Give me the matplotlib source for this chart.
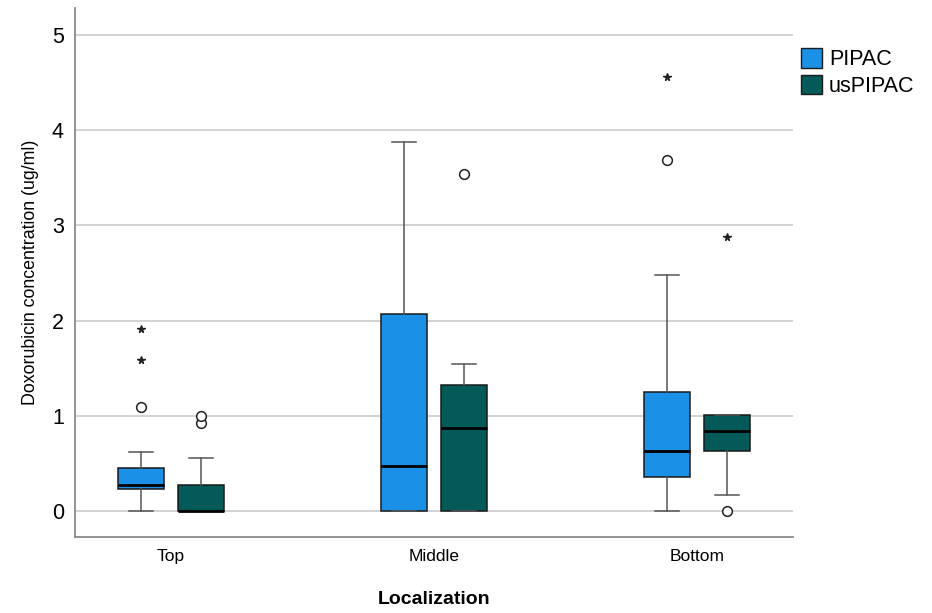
import matplotlib.pyplot as plt
from matplotlib.patches import Patch

# data (ug/ml)
locations = ['Top', 'Middle', 'Bottom']
groups = ['PIPAC', 'usPIPAC']

pipac_whislo = [0.0, 0.0, 0.0]
pipac_q1 = [0.23, 0.0, 0.357]
pipac_med = [0.28, 0.476, 0.63]
pipac_q3 = [0.455, 2.07, 1.25]
pipac_whishi = [0.62, 3.87, 2.48]
pipac_circles = [[1.09], [], [3.69]]
pipac_stars = [[1.59, 1.91], [], [4.56]]

us_whislo = [0.0, 0.0, 0.17]
us_q1 = [0.0, 0.0, 0.63]
us_med = [0.0, 0.87, 0.84]
us_q3 = [0.276, 1.32, 1.005]
us_whishi = [0.56, 1.54, 1.005]
us_circles = [[0.93, 1.0], [3.54], [0.0]]
us_stars = [[], [], [2.88]]

colors = ['#1a91e6', '#035a59']

plt.rcParams['font.family'] = 'Liberation Sans'

fig = plt.figure(figsize=(9.32, 6.13), dpi=100)
ax = fig.add_axes([0.0805, 0.124, 0.7705, 0.863])

series = [
    (pipac_whislo, pipac_q1, pipac_med, pipac_q3, pipac_whishi, pipac_circles, pipac_stars),
    (us_whislo, us_q1, us_med, us_q3, us_whishi, us_circles, us_stars),
]
offsets = [-0.114, 0.114]

for k, (lo, q1, med, q3, hi, circ, stars) in enumerate(series):
    stats = []
    for i in range(len(locations)):
        stats.append({'whislo': lo[i], 'q1': q1[i], 'med': med[i], 'q3': q3[i],
                      'whishi': hi[i], 'fliers': circ[i]})
    pos = [i + offsets[k] for i in range(len(locations))]
    ax.bxp(stats, positions=pos, widths=0.175, patch_artist=True,
           boxprops=dict(facecolor=colors[k], edgecolor='#1a1a1a', linewidth=1.1),
           medianprops=dict(color='black', linewidth=2),
           whiskerprops=dict(color='#555555', linewidth=1.1),
           capprops=dict(color='#555555', linewidth=1.1),
           capwidths=0.09,
           flierprops=dict(marker='o', markerfacecolor='white', markeredgecolor='#222222',
                           markersize=7, markeredgewidth=1.1),
           zorder=3)
    # extreme values drawn as asterisks
    for i in range(len(locations)):
        if stars[i]:
            ax.plot([pos[i]] * len(stars[i]), stars[i], linestyle='none', marker='*',
                    color='#222222', markersize=5.5, zorder=4)

ax.set_xlim(-0.365, 2.365)
ax.set_ylim(-0.27, 5.28)
ax.set_yticks(range(6))
ax.set_xticks(range(len(locations)))
ax.set_xticklabels(locations, fontsize=12.5)
ax.tick_params(axis='y', labelsize=15.5, length=0, pad=8)
ax.tick_params(axis='x', length=0, pad=9)
ax.yaxis.grid(True, color='#cfcfcf', linewidth=1.3)
ax.set_axisbelow(True)
for s in ['top', 'right']:
    ax.spines[s].set_visible(False)
for s in ['left', 'bottom']:
    ax.spines[s].set_color('#8a8a8a')
    ax.spines[s].set_linewidth(1.3)

ax.set_ylabel('Doxorubicin concentration (ug/ml)', fontsize=12.8, labelpad=9)
ax.set_xlabel('Localization', fontsize=14, fontweight='bold', labelpad=19)

handles = [Patch(facecolor=colors[k], edgecolor='#1a1a1a', label=groups[k]) for k in range(2)]
fig.legend(handles=handles, loc='upper left', bbox_to_anchor=(0.85, 0.935), frameon=False,
           fontsize=15.5, handlelength=1.0, handleheight=1.0, handletextpad=0.3,
           labelspacing=0.2, borderaxespad=0)

fig.savefig('out.png', dpi=100)
